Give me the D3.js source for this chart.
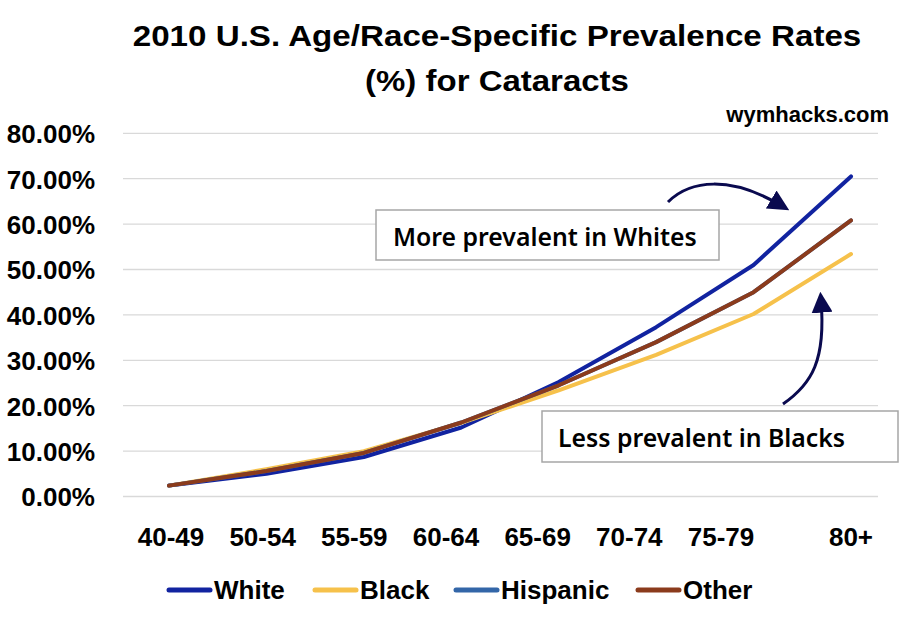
<!DOCTYPE html>
<html><head><meta charset="utf-8">
<script src="https://cdn.jsdelivr.net/npm/d3@7"></script>
<style>
html,body{margin:0;padding:0;background:#fff;}
svg{display:block;}
.bold{font-family:"Liberation Sans",Arial,sans-serif;font-weight:bold;}
</style></head>
<body>
<svg id="chart" width="913" height="626"></svg>
<script>
const categories = ["40-49","50-54","55-59","60-64","65-69","70-74","75-79","80+"];
const seriesNames = ["White","Black","Hispanic","Other"];
const white    = [0.024,0.050,0.087,0.152,0.252,0.373,0.510,0.705];
const black    = [0.024,0.060,0.100,0.162,0.234,0.312,0.402,0.534];
const hispanic = [0.024,0.056,0.096,0.163,0.245,0.340,0.450,0.608];
const other    = [0.024,0.056,0.096,0.163,0.245,0.340,0.450,0.608];
const yTicks = [0,0.1,0.2,0.3,0.4,0.5,0.6,0.7,0.8];
const titleLines = ["2010 U.S. Age/Race-Specific Prevalence Rates","(%) for Cataracts"];
const watermark = "wymhacks.com";
const notes = ["More prevalent in Whites","Less prevalent in Blacks"];

const colors = {White:"#1123a0",Black:"#f6c14b",Hispanic:"#3366a8",Other:"#8b3b1c"};
const seriesData = {White:white,Black:black,Hispanic:hispanic,Other:other};

const svg = d3.select("#chart");
const x = d3.scalePoint().domain(categories).range([169,851]);
const y = d3.scaleLinear().domain([0,0.8]).range([496.5,133.3]);
const xLab = d3.scalePoint().domain(categories.slice(0,7)).range([171,721]);

// gridlines
svg.append("g").selectAll("line").data(yTicks).join("line")
  .attr("x1",123).attr("x2",878)
  .attr("y1",d=>y(d)).attr("y2",d=>y(d))
  .attr("stroke","#d9d9d9").attr("stroke-width",1.3);

// y labels
const yAxis = d3.axisLeft(y).tickValues(yTicks).tickFormat(d3.format(".2%")).tickSize(0).tickPadding(0);
const ya = svg.append("g").attr("transform","translate(95,0)").call(yAxis);
ya.select(".domain").remove();
ya.selectAll("text").attr("class","bold").attr("font-family",null)
  .attr("font-size",26).attr("fill","#000").attr("dy","0.36em");

// x labels
svg.append("g").selectAll("text").data(categories).join("text")
  .attr("class","bold")
  .attr("x",(d,i)=> i<7 ? xLab(d) : x(d))
  .attr("y",546).attr("text-anchor","middle")
  .attr("font-size",26).attr("fill","#000").text(d=>d);

// lines
const line = d3.line().x((d,i)=>x(categories[i])).y(d=>y(d));
svg.append("g").selectAll("path").data(seriesNames).join("path")
  .attr("d",s=>line(seriesData[s]))
  .attr("fill","none").attr("stroke",s=>colors[s])
  .attr("stroke-width",4).attr("stroke-linecap","round").attr("stroke-linejoin","round");

// title (fit to reference widths)
const titleW = [729,264];
svg.append("g").selectAll("text").data(titleLines).join("text")
  .attr("class","bold").attr("text-anchor","middle").attr("font-size",30).attr("fill","#000")
  .text(d=>d)
  .each(function(d,i){
    const w = this.getComputedTextLength();
    const s = titleW[i]/w;
    d3.select(this).attr("transform",`translate(497,${46+i*45}) scale(${s},1)`);
  });

svg.append("text").attr("class","bold").attr("x",889).attr("y",122)
  .attr("text-anchor","end").attr("font-size",22).attr("fill","#000").text(watermark);

// annotation boxes
const boxes = [{x0:376,y0:210,x1:719,y1:260,tx:393,ty:246},{x0:542,y0:411,x1:898,y1:462,tx:558,ty:447}];
boxes.forEach((b,i)=>{
  svg.append("rect").attr("x",b.x0).attr("y",b.y0).attr("width",b.x1-b.x0).attr("height",b.y1-b.y0)
    .attr("fill","#fff").attr("stroke","#a6a6a6").attr("stroke-width",1.5);
  svg.append("text").attr("x",b.tx).attr("y",b.ty)
    .attr("font-family","'Noto Sans','Open Sans',sans-serif").attr("font-weight",600)
    .attr("font-size",24.8).attr("fill","#000").text(notes[i]);
});

// arrows
const defs = svg.append("defs");
defs.append("marker").attr("id","ah").attr("viewBox","0 0 10 10").attr("refX",6).attr("refY",5)
  .attr("markerWidth",7).attr("markerHeight",7).attr("markerUnits","strokeWidth").attr("orient","auto")
  .append("path").attr("d","M0,0 L10,5 L0,10 z").attr("fill","#0a0a4f");
svg.append("path").attr("d","M668,202 C690,180 730,175 782,206")
  .attr("fill","none").attr("stroke","#0a0a4f").attr("stroke-width",3).attr("marker-end","url(#ah)");
svg.append("path").attr("d","M783,404 C812,384 826,360 821,300")
  .attr("fill","none").attr("stroke","#0a0a4f").attr("stroke-width",3).attr("marker-end","url(#ah)");

// legend
const legX = [167,313,454,636];
const lg = svg.append("g").selectAll("g").data(seriesNames).join("g")
  .attr("transform",(d,i)=>`translate(${legX[i]},590)`);
lg.append("line").attr("x1",2).attr("x2",43).attr("y1",0).attr("y2",0)
  .attr("stroke",d=>colors[d]).attr("stroke-width",5).attr("stroke-linecap","round");
lg.append("text").attr("class","bold").attr("x",47).attr("y",9).attr("font-size",26).attr("fill","#000").text(d=>d);
</script>
</body></html>
